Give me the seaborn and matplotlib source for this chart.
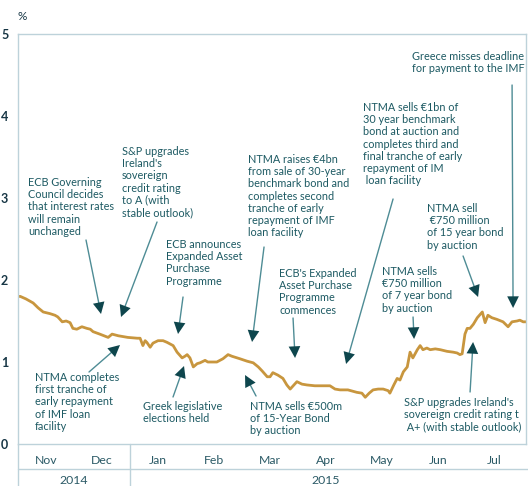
import numpy as np
import pandas as pd
import seaborn as sns
import matplotlib.pyplot as plt

# Irish 10-year bond yield, x = months since 1 Nov 2014
month_pos = [0.00, 0.04, 0.14, 0.27, 0.36, 0.45, 0.57, 0.66, 0.71, 0.79, 0.86, 0.93, 0.98,
             1.05, 1.14, 1.23, 1.29, 1.34, 1.46, 1.61, 1.68, 1.79, 1.96, 2.13, 2.18, 2.23,
             2.27, 2.30, 2.36, 2.41, 2.50, 2.59, 2.66, 2.77, 2.84, 2.93, 2.98, 3.02, 3.07,
             3.13, 3.20, 3.25, 3.34, 3.39, 3.55, 3.66, 3.75, 3.82, 3.96, 4.09, 4.20, 4.29,
             4.36, 4.45, 4.50, 4.55, 4.64, 4.73, 4.80, 4.86, 4.98, 5.07, 5.16, 5.30, 5.45,
             5.57, 5.66, 5.75, 5.89, 6.05, 6.14, 6.20, 6.27, 6.34, 6.43, 6.52, 6.61, 6.64,
             6.71, 6.77, 6.82, 6.88, 6.95, 7.00, 7.05, 7.13, 7.18, 7.23, 7.30, 7.36, 7.45,
             7.54, 7.66, 7.77, 7.84, 7.89, 7.93, 7.98, 8.02, 8.07, 8.13, 8.20, 8.29, 8.34,
             8.39, 8.46, 8.55, 8.66, 8.75, 8.82, 8.91, 8.96, 9.02, 9.09]
yield_pct = [1.80, 1.80, 1.77, 1.72, 1.66, 1.61, 1.59, 1.57, 1.55, 1.49, 1.50, 1.48, 1.41,
             1.40, 1.43, 1.41, 1.40, 1.37, 1.34, 1.30, 1.34, 1.32, 1.30, 1.29, 1.29, 1.20,
             1.26, 1.24, 1.18, 1.23, 1.26, 1.26, 1.24, 1.20, 1.12, 1.05, 1.07, 1.09, 1.05,
             0.94, 0.98, 0.99, 1.02, 1.00, 1.00, 1.04, 1.09, 1.07, 1.04, 1.01, 0.99, 0.94,
             0.89, 0.82, 0.82, 0.87, 0.84, 0.80, 0.72, 0.67, 0.76, 0.73, 0.72, 0.71, 0.71,
             0.71, 0.67, 0.66, 0.66, 0.63, 0.62, 0.57, 0.62, 0.66, 0.67, 0.67, 0.65, 0.62,
             0.72, 0.80, 0.78, 0.88, 0.94, 1.12, 1.05, 1.15, 1.20, 1.15, 1.17, 1.15, 1.16,
             1.15, 1.13, 1.12, 1.11, 1.09, 1.10, 1.34, 1.41, 1.41, 1.46, 1.54, 1.61, 1.48,
             1.57, 1.54, 1.52, 1.49, 1.43, 1.49, 1.50, 1.51, 1.49, 1.49]

months = ["Nov", "Dec", "Jan", "Feb", "Mar", "Apr", "May", "Jun", "Jul"]
years = ["2014", "2015"]
y_ticks = [0, 1, 2, 3, 4, 5]

# (text, text x/y in pixels of the reference, arrow start px, arrow tip px)
notes = [
    ("ECB Governing\nCouncil decides\nthat interest rates\nwill remain\nunchanged", (28, 177), (86, 240), (101, 314)),
    ("S&P upgrades\nIreland's\nsovereign\ncredit rating\nto A (with\nstable outlook)", (122, 146), (157, 222), (121, 317)),
    ("ECB announces\nExpanded Asset\nPurchase\nProgramme", (166, 239), (183, 297), (178, 334)),
    ("NTMA completes\nfirst tranche of\nearly repayment\nof IMF loan\nfacility", (35, 372), (89, 372), (120, 345)),
    ("Greek legislative\nelections held", (143, 401), (173, 397), (184, 366)),
    ("NTMA raises €4bn\nfrom sale of 30-year\nbenchmark bond and\ncompletes second\ntranche of early\nrepayment of IMF\nloan facility", (248, 154), (264, 247), (252, 342)),
    ("ECB's Expanded\nAsset Purchase\nProgramme\ncommences", (279, 268), (293, 318), (295, 358)),
    ("NTMA sells €1bn of\n30 year benchmark\nbond at auction and\ncompletes third and\nfinal tranche of early\nrepayment of IM\n loan facility", (363, 102), (393, 199), (346, 364)),
    ("NTMA sells €500m\nof 15-Year Bond\nby auction", (250, 401), (256, 396), (245, 375)),
    ("NTMA sells\n€750 million\nof 7 year bond\nby auction", (382, 266), (413, 317), (414, 339)),
    ("NTMA sell\n €750 million\nof 15 year bond\nby auction", (427, 203), (463, 256), (478, 297)),
    ("Greece misses deadline\nfor payment to the IMF", (412, 51), (512, 85), (513, 308)),
    ("S&P upgrades Ireland's\nsovereign credit rating t\n A+ (with stable outlook)", (404, 397), (470, 392), (473, 342)),
]

sns.set_style("white")
plt.rcParams['font.family'] = ['Lato', 'DejaVu Sans']

gold = "#C8963E"
teal = "#1D5A63"
dark = "#0E464D"
arrow_c = "#4E8C95"
grid_c = "#BDD2DA"

W, H = 528, 486
fig = plt.figure(figsize=(W / 100, H / 100), dpi=100)
ax = fig.add_axes([18 / W, 42 / H, (526 - 18) / W, 410 / H])

df = pd.DataFrame({"t": month_pos, "y": yield_pct})
sns.lineplot(data=df, x="t", y="y", ax=ax, color=gold, lw=2.0)

ax.set_xlim(0, 9.07)
ax.set_ylim(0, 5)
ax.set_xlabel("")
ax.set_ylabel("")

for s in ax.spines.values():
    s.set_color(grid_c)
    s.set_linewidth(1.0)

ax.set_yticks(y_ticks)
ax.set_yticklabels([str(v) for v in y_ticks])
ax.tick_params(axis="y", length=5, color=grid_c, pad=2, labelsize=9, labelcolor="#173645")
for lab in ax.get_yticklabels():
    lab.set_fontweight("bold")

ax.set_xticks(range(len(months) + 1))
ax.set_xticklabels([])
ax.set_xticks([i + 0.5 for i in range(len(months))], minor=True)
ax.set_xticklabels(months, minor=True)
ax.tick_params(axis="x", which="major", length=6, color=grid_c)
ax.tick_params(axis="x", which="minor", length=0, pad=8, labelsize=8.8, labelcolor="#2B5A66")

# year row
tr = ax.get_xaxis_transform()
ax.plot([0, 9.2], [-0.061, -0.061], transform=tr, color=grid_c, lw=1, clip_on=False)
for xv in [0, 2]:
    ax.plot([xv, xv], [0, -0.11], transform=tr, color=grid_c, lw=1, clip_on=False)
ax.text(1, -0.088, years[0], transform=tr, ha="center", va="center", fontsize=8.8, color="#2B5A66")
ax.text(5.5, -0.088, years[1], transform=tr, ha="center", va="center", fontsize=8.8, color="#2B5A66")

fig.text(18 / W, 1 - 16 / H, "%", fontsize=8.5, color="#173645", ha="left", va="center")


def px2data(p):
    return ((p[0] - 18) / 56.0, (444 - p[1]) / 82.0)


for txt, tpos, a0, a1 in notes:
    tx, ty = px2data(tpos)
    ax.text(tx, ty, txt, fontsize=7.8, color=teal, ha="left", va="top", linespacing=1.13, clip_on=False)
    ax.annotate("", xy=px2data(a1), xytext=px2data(a0), annotation_clip=False,
                arrowprops=dict(arrowstyle="-", color=arrow_c, lw=1.0, shrinkA=0, shrinkB=4))
    ax.annotate("", xy=px2data(a1), xytext=px2data(a0), annotation_clip=False,
                arrowprops=dict(arrowstyle="-|>,head_length=0.7,head_width=0.35", color=dark,
                                lw=0, shrinkA=0, shrinkB=0, mutation_scale=12))

fig.savefig("out.png", dpi=100)
